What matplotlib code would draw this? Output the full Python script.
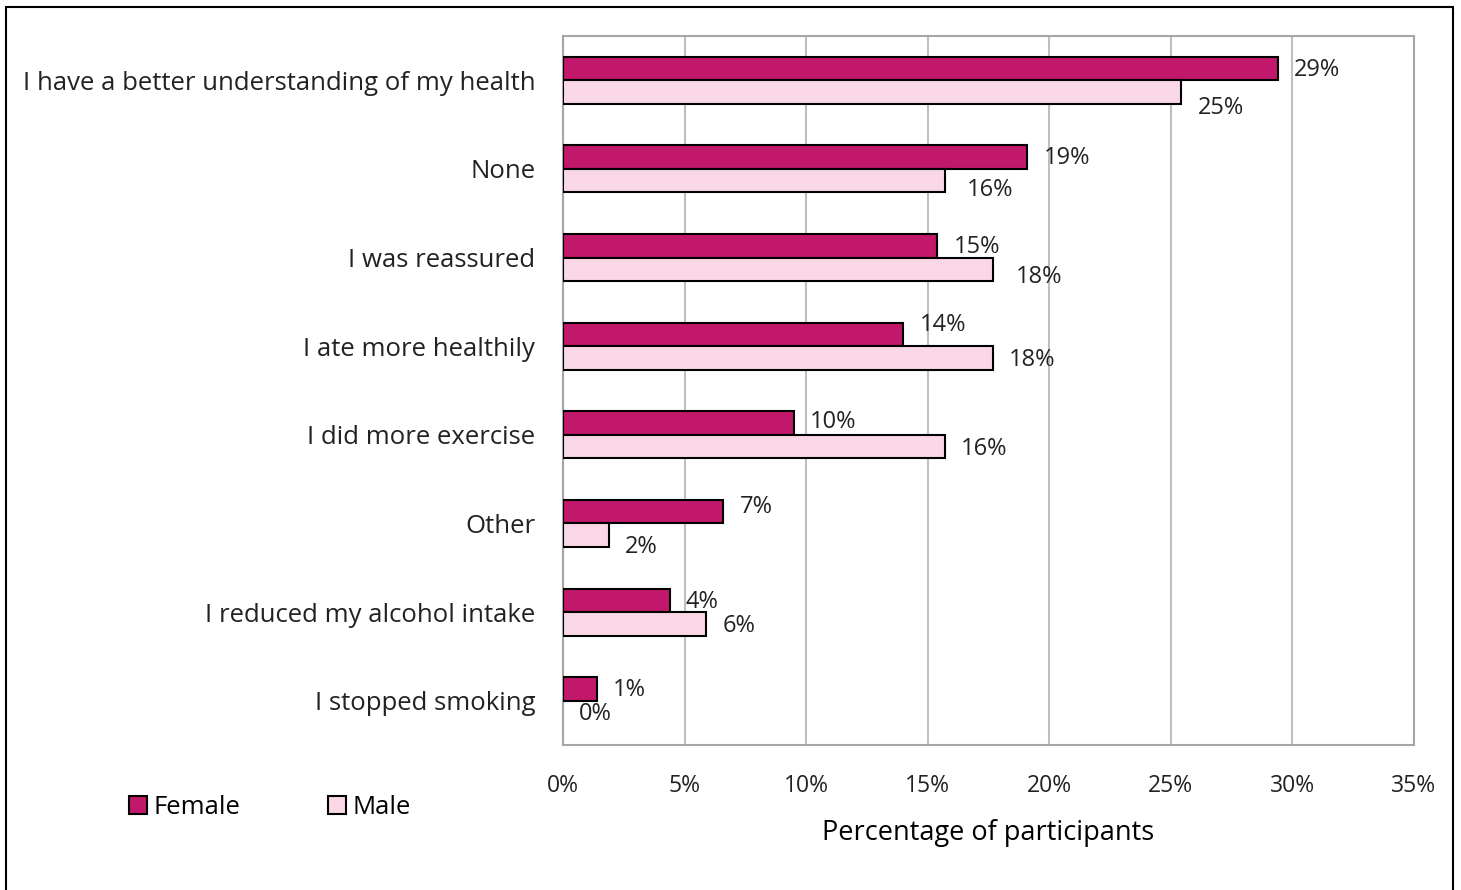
import matplotlib.pyplot as plt
from matplotlib.patches import Rectangle, Patch

categories = ['I have a better understanding of my health', 'None', 'I was reassured',
              'I ate more healthily', 'I did more exercise', 'Other',
              'I reduced my alcohol intake', 'I stopped smoking']
female = [29.4, 19.1, 15.4, 14.0, 9.5, 6.6, 4.4, 1.4]
male = [25.4, 15.7, 17.7, 17.7, 15.7, 1.9, 5.9, 0.0]
ticks = [0, 5, 10, 15, 20, 25, 30, 35]

# label nudges (pixels) to mimic the hand-placed labels
female_dy = [1, 1, 1, -9, -1, -5, 2, 1]
male_dy = [16, 9, 8, 2, 2, 12, 2, 2]
male_dx = [17, 22, 22, 15, 16, 16, 16, 16]

FEMALE_C = '#C2186B'
MALE_C = '#FAD7E7'

plt.rcParams['font.family'] = ['Open Sans', 'DejaVu Sans']

fig = plt.figure(figsize=(14.61, 8.90), dpi=100)
ax = fig.add_axes([563 / 1461, 1 - 745 / 890, (1414 - 563) / 1461, (745 - 36) / 890])

# outer border of the chart area
fig.patches.append(Rectangle((6 / 1461, -0.05), (1453 - 6) / 1461, 1.05 - 7 / 890,
                             transform=fig.transFigure, fill=False, edgecolor='black', linewidth=1.5))

h = 0.265
ypos = list(range(len(categories)))
yf = [y - h / 2 for y in ypos]
ym = [y + h / 2 for y in ypos]
ax.barh(yf, female, height=h, color=FEMALE_C, edgecolor='black', linewidth=1.5, zorder=3)
ax.barh(ym, male, height=h, color=MALE_C, edgecolor='black',
        linewidth=[1.5 if v > 0 else 0 for v in male], zorder=3)

for i in range(len(categories)):
    ax.annotate(f'{round(female[i])}%', (female[i], yf[i]), xytext=(16 * 0.72, -female_dy[i] * 0.72),
                textcoords='offset points', ha='left', va='center', fontsize=17, color='#222222')
    ax.annotate(f'{round(male[i])}%', (male[i], ym[i]), xytext=(male_dx[i] * 0.72, -male_dy[i] * 0.72),
                textcoords='offset points', ha='left', va='center', fontsize=17, color='#222222')

ax.set_xlim(0, 35)
ax.set_ylim(7.5, -0.5)
ax.set_xticks(ticks)
ax.set_xticklabels([f'{t}%' for t in ticks], fontsize=16.5, color='#222222')
ax.set_yticks(ypos)
ax.set_yticklabels(categories, fontsize=18.5, color='#222222')
ax.tick_params(axis='both', length=0)
ax.tick_params(axis='x', pad=21)
ax.tick_params(axis='y', pad=20)
ax.xaxis.grid(True, color='#BFBFBF', linewidth=1.5, zorder=0)
ax.set_axisbelow(True)
for s in ax.spines.values():
    s.set_color('#A6A6A6')
    s.set_linewidth(1.5)

ax.set_xlabel('Percentage of participants', fontsize=19.5, color='black', labelpad=15)

handles = [Patch(facecolor=FEMALE_C, edgecolor='black', linewidth=1.5),
           Patch(facecolor=MALE_C, edgecolor='black', linewidth=1.5)]
fig.legend(handles, ['Female', 'Male'], loc='center left', bbox_to_anchor=(129 / 1461, 1 - 807 / 890),
           borderpad=0, borderaxespad=0, ncol=2, frameon=False, fontsize=18.5,
           handlelength=0.7, handleheight=0.7, handletextpad=0.25, columnspacing=3.4)

fig.savefig('out.png', dpi=100, facecolor='white')
